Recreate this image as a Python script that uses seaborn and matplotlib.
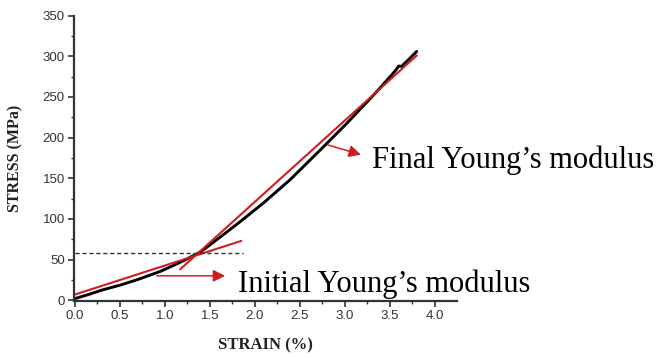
import matplotlib
matplotlib.use("Agg")
import matplotlib.pyplot as plt
import seaborn as sns
import pandas as pd
from matplotlib.ticker import MultipleLocator

# ---- data ----
strain = [0.0, 0.15, 0.3, 0.5, 0.7, 0.95, 1.1, 1.25, 1.39, 1.56, 1.83, 2.1, 2.39,
          2.72, 3.0, 3.24, 3.4, 3.56, 3.6, 3.63, 3.7, 3.8]
stress = [2, 7, 12.5, 18.5, 25.5, 35.5, 43, 51, 59, 73, 96, 120, 148,
          184, 215, 243, 262, 282, 288, 287.5, 295, 306]

initial_fit_x = [0.0, 1.85]
initial_fit_y = [7, 73]
final_fit_x = [1.17, 3.80]
final_fit_y = [38, 301]
ref_level_x = [0.0, 1.87]
ref_level_y = [58.5, 58.5]

xticks = [0.0, 0.5, 1.0, 1.5, 2.0, 2.5, 3.0, 3.5, 4.0]
yticks = [0, 50, 100, 150, 200, 250, 300, 350]

labels = ["Initial Young\u2019s modulus", "Final Young\u2019s modulus"]

RED = "#d01c1f"
DARK = "#333333"

sns.set_style("ticks")
plt.rcParams["font.family"] = ["Liberation Sans", "DejaVu Sans"]

fig = plt.figure(figsize=(6.6, 3.55), dpi=100)
ax = fig.add_axes([0.112, 0.152, 0.580, 0.804])

curve = pd.DataFrame({"strain": strain, "stress": stress})
sns.lineplot(data=curve, x="strain", y="stress", ax=ax, color="black", lw=2.1, sort=False)
sns.lineplot(x=final_fit_x, y=final_fit_y, ax=ax, color=RED, lw=1.5)
sns.lineplot(x=initial_fit_x, y=initial_fit_y, ax=ax, color=RED, lw=1.5)
ax.plot(ref_level_x, ref_level_y, color=DARK, lw=1.0, ls=(0, (3, 2)))

ax.set_xlim(-0.011, 4.244)
ax.set_ylim(-1, 350)
ax.set_xticks(xticks)
ax.set_yticks(yticks)
ax.xaxis.set_minor_locator(MultipleLocator(0.25))
ax.yaxis.set_minor_locator(MultipleLocator(25))
ax.set_xticklabels([f"{v:.1f}" for v in xticks])
ax.set_yticklabels([str(v) for v in yticks])

for s in ["top", "right"]:
    ax.spines[s].set_visible(False)
for s in ["left", "bottom"]:
    ax.spines[s].set_linewidth(1.6)
    ax.spines[s].set_color(DARK)
ax.tick_params(which="major", length=4, width=1.2, color=DARK, labelsize=9.5,
               labelcolor=DARK, direction="out", pad=2.5)
ax.tick_params(which="minor", length=2.5, width=1.0, color=DARK, direction="out")

ax.set_xlabel("STRAIN (%)", family=["Liberation Serif"], fontweight="bold",
              fontsize=12, color="#222222", labelpad=11)
ax.set_ylabel("STRESS (MPa)", family=["Liberation Serif"], fontweight="bold",
              fontsize=11.5, color="#222222", labelpad=14)

arrow = dict(arrowstyle="-|>", color=RED, lw=1.1, mutation_scale=18, shrinkA=0, shrinkB=0)
ax.annotate("", xy=(1.67, 30), xytext=(0.91, 30), arrowprops=arrow, annotation_clip=False)
ax.annotate("", xy=(3.18, 179), xytext=(2.81, 191), arrowprops=arrow, annotation_clip=False)

ax.text(1.81, 10.2, labels[0], family=["Liberation Serif"], fontsize=22,
        va="baseline", ha="left", color="black", clip_on=False)
ax.text(3.30, 163, labels[1], family=["Liberation Serif"], fontsize=22,
        va="baseline", ha="left", color="black", clip_on=False)

fig.savefig("out.png", dpi=100, facecolor="white")
